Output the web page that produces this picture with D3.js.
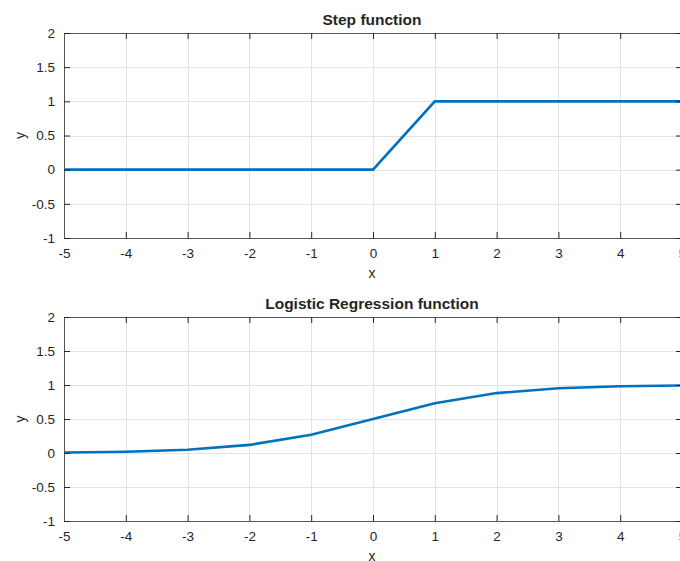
<!DOCTYPE html>
<html>
<head>
<meta charset="utf-8">
<script src="https://cdn.jsdelivr.net/npm/d3@7"></script>
<style>
  body { margin: 0; background: #fff; }
  svg text { font-family: "Liberation Sans", Arial, sans-serif; fill: #262626; }
</style>
</head>
<body>
<script>
// x samples shared by both plots
var xValues = [-5, -4, -3, -2, -1, 0, 1, 2, 3, 4, 5];
var stepValues = [0, 0, 0, 0, 0, 0, 1, 1, 1, 1, 1];
var logisticValues = [0.007, 0.018, 0.047, 0.119, 0.269, 0.5, 0.731, 0.881, 0.953, 0.982, 0.993];
var xTicks = [-5, -4, -3, -2, -1, 0, 1, 2, 3, 4, 5];
var yTicks = [-1, -0.5, 0, 0.5, 1, 1.5, 2];
var titles = ["Step function", "Logistic Regression function"];

var W = 680, H = 561;
var svg = d3.select("body").append("svg")
    .attr("width", W)
    .attr("height", H);

var panels = [
  {title: titles[0], values: stepValues, top: 33, bottom: 238},
  {title: titles[1], values: logisticValues, top: 317, bottom: 521}
];

var left = 64, right = 682;
var axisColor = "#262626";
// plain hyphen minus like matlab, not the unicode one
var fmt = function(d) { return String(d); };

panels.forEach(function(p) {
  var x = d3.scaleLinear().domain([-5, 5]).range([left, right]);
  var y = d3.scaleLinear().domain([-1, 2]).range([p.bottom, p.top]);
  var g = svg.append("g");

  // grid
  g.selectAll(".vg").data(xTicks).enter().append("line")
    .attr("x1", function(d) { return Math.round(x(d)) + 0.5; })
    .attr("x2", function(d) { return Math.round(x(d)) + 0.5; })
    .attr("y1", p.top).attr("y2", p.bottom)
    .style("stroke", "#e3e3e3").style("stroke-width", 1);
  g.selectAll(".hg").data(yTicks).enter().append("line")
    .attr("y1", function(d) { return Math.round(y(d)) + 0.5; })
    .attr("y2", function(d) { return Math.round(y(d)) + 0.5; })
    .attr("x1", left).attr("x2", right)
    .style("stroke", "#e3e3e3").style("stroke-width", 1);

  // data line
  var line = d3.line()
    .x(function(d, i) { return x(xValues[i]); })
    .y(function(d) { return y(d); });
  g.append("path")
    .datum(p.values)
    .attr("d", line)
    .style("fill", "none")
    .style("stroke", "#0072BD")
    .style("stroke-width", 2.6);

  // axes, ticks pointing inward (matlab style)
  var bottomAxis = d3.axisBottom(x).tickValues(xTicks).tickSizeInner(-6).tickSizeOuter(0).tickPadding(10)
    .tickFormat(fmt);
  var topAxis = d3.axisTop(x).tickValues(xTicks).tickSizeInner(-6).tickSizeOuter(0).tickFormat("");
  var leftAxis = d3.axisLeft(y).tickValues(yTicks).tickSizeInner(-6).tickSizeOuter(0).tickPadding(9)
    .tickFormat(fmt);
  var rightAxis = d3.axisRight(y).tickValues(yTicks).tickSizeInner(-6).tickSizeOuter(0).tickFormat("");

  [
    g.append("g").attr("transform", "translate(0," + p.bottom + ")").call(bottomAxis),
    g.append("g").attr("transform", "translate(0," + p.top + ")").call(topAxis),
    g.append("g").attr("transform", "translate(" + left + ",0)").call(leftAxis),
    g.append("g").attr("transform", "translate(" + right + ",0)").call(rightAxis)
  ].forEach(function(a) {
    a.selectAll("path, line").style("stroke", axisColor);
    a.select(".domain").style("stroke", "#555");
    a.selectAll("text").style("font-size", "13.5px").style("fill", axisColor)
      .style("font-family", "'Liberation Sans', Arial, sans-serif");
  });

  // title
  svg.append("text")
    .attr("x", (left + right) / 2 - 1)
    .attr("y", p.top - 8)
    .attr("text-anchor", "middle")
    .style("font-size", "15.5px")
    .style("font-weight", "bold")
    .text(p.title);

  // axis labels
  svg.append("text")
    .attr("x", (left + right) / 2 - 1)
    .attr("y", p.bottom + 40)
    .attr("text-anchor", "middle")
    .style("font-size", "14px")
    .text("x");
  svg.append("text")
    .attr("transform", "translate(25," + ((p.top + p.bottom) / 2) + ") rotate(-90)")
    .attr("text-anchor", "middle")
    .style("font-size", "14px")
    .text("y");
});
</script>
</body>
</html>
